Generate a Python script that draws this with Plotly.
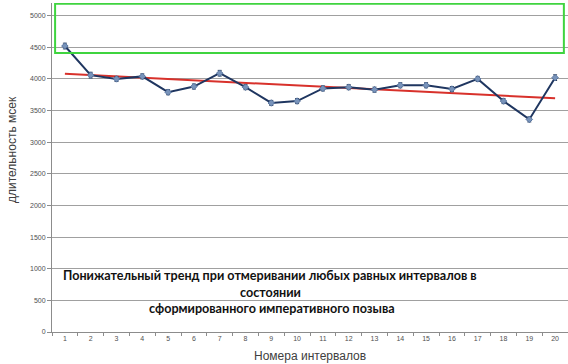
import numpy as np
import plotly.graph_objects as go

categories = [str(i) for i in range(1, 21)]
durations = [4520, 4060, 4000, 4040, 3790, 3880, 4090, 3870, 3620, 3650,
             3850, 3870, 3830, 3900, 3900, 3840, 4000, 3650, 3360, 4020]
errors = [45, 45, 40, 40, 40, 40, 45, 40, 40, 40,
          40, 40, 40, 40, 40, 40, 40, 40, 40, 45]
y_ticks = [0, 500, 1000, 1500, 2000, 2500, 3000, 3500, 4000, 4500, 5000]
box_low, box_high = 4410, 5190
note_lines = ["Понижательный тренд при отмеривании любых равных интервалов в",
              "состоянии",
              "сформированного императивного позыва"]

idx = np.arange(len(durations))
slope, intercept = np.polyfit(idx, durations, 1)
trend = slope * idx + intercept

fig = go.Figure()
fig.add_trace(go.Scatter(
    x=categories, y=trend, mode="lines",
    line=dict(color="#D8312B", width=2), showlegend=False, hoverinfo="skip"))
fig.add_trace(go.Scatter(
    x=categories, y=durations, mode="lines+markers",
    line=dict(color="#1F3660", width=2),
    marker=dict(symbol="diamond", size=5, color="#7893BA",
                line=dict(color="#56739E", width=1)),
    error_y=dict(type="data", array=errors, visible=True,
                 color="#2E3F5C", thickness=1, width=2),
    showlegend=False))

fig.add_shape(type="rect", xref="x", yref="y",
              x0=-0.38, x1=19.34, y0=box_low, y1=box_high,
              line=dict(color="#3FD43F", width=2), fillcolor="rgba(0,0,0,0)")

H = 329.0
for line, ypix, xpix in zip(note_lines, [275, 292, 308], [270, 270, 272]):
    fig.add_annotation(
        xref="paper", yref="paper", x=(xpix - 52) / 516, y=(332 - ypix) / H,
        xanchor="center", yanchor="middle",
        text=line, showarrow=False,
        font=dict(family="Lato", size=12.6, color="#111111", weight="bold"))

fig.add_annotation(
    xref="paper", yref="paper", x=-(52 - 12) / 516, y=(332 - 150) / H,
    xanchor="center", yanchor="middle", textangle=-90,
    text="длительность мсек", showarrow=False,
    font=dict(family="Liberation Sans", size=12, color="#404040"))
fig.add_annotation(
    xref="paper", yref="paper", x=0.5, y=-(356 - 332) / H,
    xanchor="center", yanchor="middle",
    text="Номера интервалов", showarrow=False,
    font=dict(family="Liberation Sans", size=12, color="#404040"))

fig.update_layout(
    width=568, height=364,
    margin=dict(l=52, r=0, t=3, b=32),
    paper_bgcolor="white", plot_bgcolor="white",
    font=dict(family="Liberation Sans", color="#404040"),
)
fig.update_xaxes(
    type="category", tickson="boundaries", ticks="outside", ticklen=3,
    tickcolor="#8C8C8C", showline=True, linecolor="#8C8C8C", linewidth=1,
    showgrid=False, tickfont=dict(size=7, color="#505050"),
    automargin=False, range=[-0.5, 19.5])
fig.update_yaxes(
    range=[0, 5200], tickvals=y_ticks, ticktext=[str(v) for v in y_ticks],
    ticks="outside", ticklen=4, tickcolor="#8C8C8C",
    showline=True, linecolor="#8C8C8C", linewidth=1,
    showgrid=True, gridcolor="#A0A0A0", gridwidth=1, zeroline=False,
    tickfont=dict(size=7, color="#505050"), automargin=False)

fig.write_html("out.html", config={"displayModeBar": False},
               post_script="document.body.style.margin='0';document.body.style.overflow='hidden';")
